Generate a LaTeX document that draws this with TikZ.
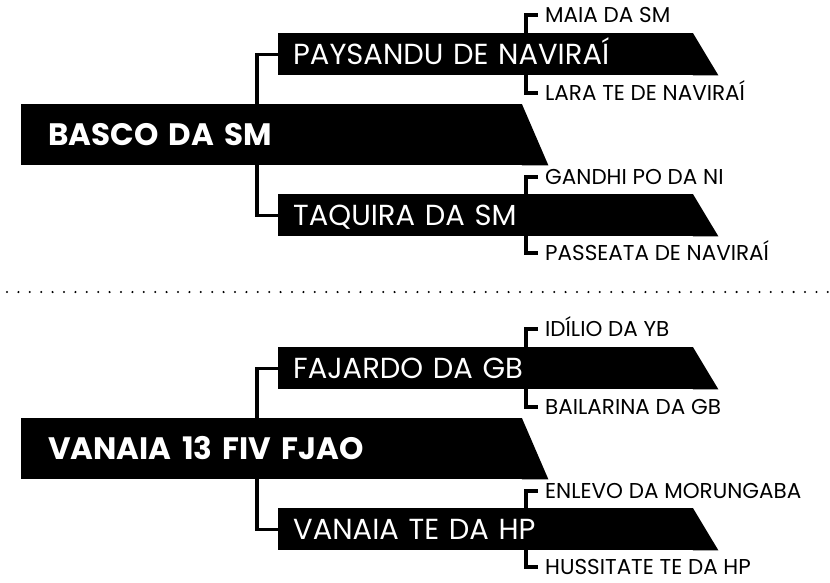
\documentclass[tikz,border=0pt]{standalone}
\usepackage{fontspec}
\setmainfont{Poppins}
\usetikzlibrary{positioning}

\begin{document}
\begin{tikzpicture}[
  x=1pt, y=-1pt,
  link/.style={draw=black, line width=3.2pt},
  rootbar/.style={fill=black, text=white, anchor=north west, inner xsep=27pt,
    text width=447pt, align=left, minimum height=61pt, text height=22pt, text depth=0pt,
    font=\fontsize{31}{33}\selectfont\bfseries},
  midbar/.style={fill=black, text=white, anchor=north west, inner xsep=15pt,
    text width=385pt, align=left, minimum height=42pt, text height=20pt, text depth=0pt,
    font=\fontsize{29}{31}\selectfont},
  leaf/.style={anchor=west, inner xsep=7pt, inner ysep=0pt, text height=15pt, text depth=0pt,
    font=\fontsize{21.5}{23}\selectfont}
]
  \useasboundingbox (0,0) rectangle (830,582);

  % upper tree
  \node[rootbar] (basco)    at (21,104) {BASCO DA SM};
  \node[midbar]  (paysandu) at (278,33)  {PAYSANDU DE NAVIRAÍ};
  \node[midbar]  (taquira)  at (278,194) {TAQUIRA DA SM};
  \node[leaf] (maia)     at (538,15)  {MAIA DA SM};
  \node[leaf] (lara)     at (538,93)  {LARA TE DE NAVIRAÍ};
  \node[leaf] (gandhi)   at (538,177) {GANDHI PO DA NI};
  \node[leaf] (passeata) at (538,253) {PASSEATA DE NAVIRAÍ};

  % separator
  \draw[line width=2.3pt, line cap=round, dash pattern=on 0pt off 11.4pt] (7,292) -- (828,292);

  % lower tree
  \node[rootbar] (vanaia)   at (21,418) {VANAIA 13 FIV FJAO};
  \node[midbar]  (fajardo)  at (278,347) {FAJARDO DA GB};
  \node[midbar]  (vanaiate) at (278,508) {VANAIA TE DA HP};
  \node[leaf] (idilio)    at (538,329) {IDÍLIO DA YB};
  \node[leaf] (bailarina) at (538,407) {BAILARINA DA GB};
  \node[leaf] (enlevo)    at (538,491) {ENLEVO DA MORUNGABA};
  \node[leaf] (hussitate) at (538,567) {HUSSITATE TE DA HP};

  % slanted tails
  \foreach \n/\d in {basco/26, vanaia/26, paysandu/25, taquira/25, fajardo/25, vanaiate/25}
    \fill ([xshift=-0.5pt]\n.north east) -- ([xshift=-0.5pt]\n.south east) -- ++(\d+0.5,0) -- cycle;

  % links
  \foreach \r/\a/\b in {basco/paysandu/taquira, vanaia/fajardo/vanaiate} {
    \draw[link] ([xshift=236pt]\r.north west) |- (\a.west);
    \draw[link] ([xshift=236pt]\r.south west) |- (\b.west);
  }
  \foreach \m/\a/\b in {paysandu/maia/lara, taquira/gandhi/passeata,
                        fajardo/idilio/bailarina, vanaiate/enlevo/hussitate} {
    \draw[link] ([xshift=248pt]\m.north west) |- (\a.west);
    \draw[link] ([xshift=248pt]\m.south west) |- (\b.west);
  }
\end{tikzpicture}
\end{document}
